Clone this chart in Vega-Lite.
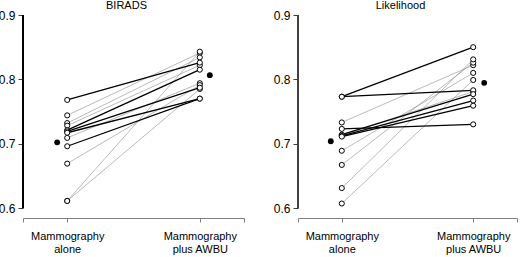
{
  "$schema": "https://vega.github.io/schema/vega-lite/v6.json",
  "padding": {"left": -2, "top": 0, "right": 2, "bottom": 0},
  "bounds": "flush",
  "spacing": 54,
  "config": {
    "view": {"stroke": null},
    "font": "Liberation Sans",
    "title": {"fontSize": 11, "fontWeight": "normal", "color": "black", "offset": -2, "font": "Liberation Sans"},
    "axis": {"labelFont": "Liberation Sans", "labelColor": "black", "grid": false, "title": null}
  },
  "datasets": {
    "birads": [
      {"reader": "b1", "group": "g", "time": 1, "value": 0.744}, {"reader": "b1", "group": "g", "time": 2, "value": 0.841},
      {"reader": "b2", "group": "g", "time": 1, "value": 0.732}, {"reader": "b2", "group": "g", "time": 2, "value": 0.834},
      {"reader": "b3", "group": "g", "time": 1, "value": 0.728}, {"reader": "b3", "group": "g", "time": 2, "value": 0.822},
      {"reader": "b4", "group": "g", "time": 1, "value": 0.709}, {"reader": "b4", "group": "g", "time": 2, "value": 0.794},
      {"reader": "b5", "group": "g", "time": 1, "value": 0.669}, {"reader": "b5", "group": "g", "time": 2, "value": 0.791},
      {"reader": "b6", "group": "g", "time": 1, "value": 0.611}, {"reader": "b6", "group": "g", "time": 2, "value": 0.843},
      {"reader": "b7", "group": "g", "time": 1, "value": 0.611}, {"reader": "b7", "group": "g", "time": 2, "value": 0.785},
      {"reader": "b8", "group": "k", "time": 1, "value": 0.768}, {"reader": "b8", "group": "k", "time": 2, "value": 0.826},
      {"reader": "b9", "group": "k", "time": 1, "value": 0.721}, {"reader": "b9", "group": "k", "time": 2, "value": 0.815},
      {"reader": "b10", "group": "k", "time": 1, "value": 0.719}, {"reader": "b10", "group": "k", "time": 2, "value": 0.787},
      {"reader": "b11", "group": "k", "time": 1, "value": 0.717}, {"reader": "b11", "group": "k", "time": 2, "value": 0.770},
      {"reader": "b12", "group": "k", "time": 1, "value": 0.696}, {"reader": "b12", "group": "k", "time": 2, "value": 0.770}
    ],
    "likelihood": [
      {"reader": "l1", "group": "g", "time": 1, "value": 0.733}, {"reader": "l1", "group": "g", "time": 2, "value": 0.822},
      {"reader": "l2", "group": "g", "time": 1, "value": 0.713}, {"reader": "l2", "group": "g", "time": 2, "value": 0.781},
      {"reader": "l3", "group": "g", "time": 1, "value": 0.689}, {"reader": "l3", "group": "g", "time": 2, "value": 0.810},
      {"reader": "l4", "group": "g", "time": 1, "value": 0.667}, {"reader": "l4", "group": "g", "time": 2, "value": 0.826},
      {"reader": "l5", "group": "g", "time": 1, "value": 0.631}, {"reader": "l5", "group": "g", "time": 2, "value": 0.831},
      {"reader": "l6", "group": "g", "time": 1, "value": 0.607}, {"reader": "l6", "group": "g", "time": 2, "value": 0.799},
      {"reader": "l7", "group": "k", "time": 1, "value": 0.773}, {"reader": "l7", "group": "k", "time": 2, "value": 0.850},
      {"reader": "l8", "group": "k", "time": 1, "value": 0.773}, {"reader": "l8", "group": "k", "time": 2, "value": 0.783},
      {"reader": "l9", "group": "k", "time": 1, "value": 0.723}, {"reader": "l9", "group": "k", "time": 2, "value": 0.730},
      {"reader": "l10", "group": "k", "time": 1, "value": 0.714}, {"reader": "l10", "group": "k", "time": 2, "value": 0.777},
      {"reader": "l11", "group": "k", "time": 1, "value": 0.712}, {"reader": "l11", "group": "k", "time": 2, "value": 0.767},
      {"reader": "l12", "group": "k", "time": 1, "value": 0.711}, {"reader": "l12", "group": "k", "time": 2, "value": 0.759}
    ]
  },
  "hconcat": [
    {
      "title": {"text": "BIRADS", "dx": -7},
      "width": 221,
      "height": 203,
      "data": {"name": "birads"},
      "encoding": {
        "x": {"field": "time", "type": "quantitative",
          "scale": {"domain": [0.6667, 2.3333], "nice": false, "zero": false},
          "axis": {"values": [0.6667, 1, 2, 2.3333], "domainColor": "#808080", "tickColor": "#808080", "tickSize": 4, "labelPadding": 8, "labelFontSize": 11, "labelLineHeight": 13.5, "labelBaseline": "top",
            "labelExpr": "datum.value == 1 ? ['Mammography', 'alone'] : datum.value == 2 ? ['Mammography', 'plus AWBU'] : ''"}},
        "y": {"field": "value", "type": "quantitative",
          "scale": {"domain": [0.5845, 0.9], "nice": false, "zero": false},
          "axis": {"values": [0.6, 0.7, 0.8, 0.9], "format": ".1f", "domain": false, "tickColor": "#404040", "tickSize": 5, "labelPadding": 3, "labelFontSize": 12}}
      },
      "layer": [
        {"mark": {"type": "rule", "color": "black", "strokeWidth": 1},
          "encoding": {"x": {"datum": 0.6667, "type": "quantitative"}, "y": {"datum": 0.6, "type": "quantitative"}, "y2": {"datum": 0.9}}},
        {"mark": {"type": "line"},
          "encoding": {"detail": {"field": "reader"},
            "color": {"field": "group", "type": "nominal", "scale": {"domain": ["g", "k"], "range": ["#8c8c8c", "#000000"]}, "legend": null},
            "strokeWidth": {"field": "group", "type": "nominal", "scale": {"domain": ["g", "k"], "range": [0.6, 1.3]}, "legend": null}}},
        {"mark": {"type": "point", "shape": "circle", "filled": true, "fill": "white", "stroke": "black", "strokeWidth": 1, "size": 26, "opacity": 1}},
        {"transform": [{"filter": "datum.time == 1"}],
          "mark": {"type": "point", "shape": "circle", "filled": true, "color": "black", "size": 34, "opacity": 1, "xOffset": -10},
          "encoding": {"y": {"aggregate": "mean", "field": "value", "type": "quantitative"}}},
        {"transform": [{"filter": "datum.time == 2"}],
          "mark": {"type": "point", "shape": "circle", "filled": true, "color": "black", "size": 34, "opacity": 1, "xOffset": 10},
          "encoding": {"y": {"aggregate": "mean", "field": "value", "type": "quantitative"}}}
      ]
    },
    {
      "title": {"text": "Likelihood", "dx": -7},
      "width": 219,
      "height": 203,
      "data": {"name": "likelihood"},
      "encoding": {
        "x": {"field": "time", "type": "quantitative",
          "scale": {"domain": [0.6667, 2.3333], "nice": false, "zero": false},
          "axis": {"values": [0.6667, 1, 2, 2.3333], "domainColor": "#808080", "tickColor": "#808080", "tickSize": 4, "labelPadding": 8, "labelFontSize": 11, "labelLineHeight": 13.5, "labelBaseline": "top",
            "labelExpr": "datum.value == 1 ? ['Mammography', 'alone'] : datum.value == 2 ? ['Mammography', 'plus AWBU'] : ''"}},
        "y": {"field": "value", "type": "quantitative",
          "scale": {"domain": [0.5845, 0.9], "nice": false, "zero": false},
          "axis": {"values": [0.6, 0.7, 0.8, 0.9], "format": ".1f", "domain": false, "tickColor": "#404040", "tickSize": 5, "labelPadding": 3, "labelFontSize": 12}}
      },
      "layer": [
        {"mark": {"type": "rule", "color": "#404040", "strokeWidth": 1},
          "encoding": {"x": {"datum": 0.6667, "type": "quantitative"}, "y": {"datum": 0.6, "type": "quantitative"}, "y2": {"datum": 0.9}}},
        {"mark": {"type": "line"},
          "encoding": {"detail": {"field": "reader"},
            "color": {"field": "group", "type": "nominal", "scale": {"domain": ["g", "k"], "range": ["#8c8c8c", "#000000"]}, "legend": null},
            "strokeWidth": {"field": "group", "type": "nominal", "scale": {"domain": ["g", "k"], "range": [0.6, 1.3]}, "legend": null}}},
        {"mark": {"type": "point", "shape": "circle", "filled": true, "fill": "white", "stroke": "black", "strokeWidth": 1, "size": 26, "opacity": 1}},
        {"transform": [{"filter": "datum.time == 1"}],
          "mark": {"type": "point", "shape": "circle", "filled": true, "color": "black", "size": 34, "opacity": 1, "xOffset": -11},
          "encoding": {"y": {"aggregate": "mean", "field": "value", "type": "quantitative"}}},
        {"transform": [{"filter": "datum.time == 2"}],
          "mark": {"type": "point", "shape": "circle", "filled": true, "color": "black", "size": 34, "opacity": 1, "xOffset": 11},
          "encoding": {"y": {"aggregate": "mean", "field": "value", "type": "quantitative"}}}
      ]
    }
  ]
}
